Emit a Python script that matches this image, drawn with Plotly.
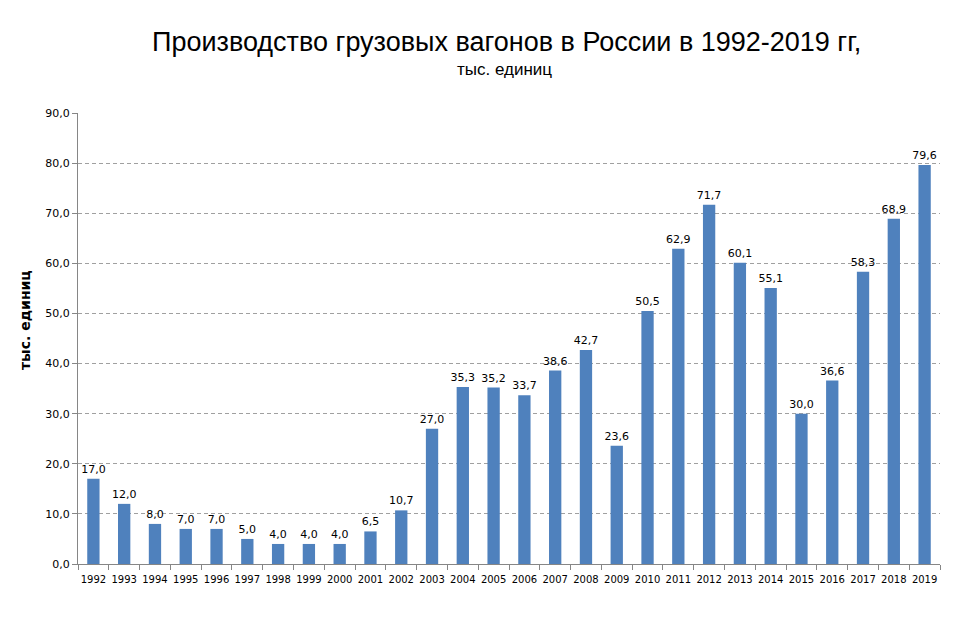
import plotly.graph_objects as go

years = [str(y) for y in range(1992, 2020)]
wagons = [17.0, 12.0, 8.0, 7.0, 7.0, 5.0, 4.0, 4.0, 4.0, 6.5, 10.7, 27.0, 35.3, 35.2,
          33.7, 38.6, 42.7, 23.6, 50.5, 62.9, 71.7, 60.1, 55.1, 30.0, 36.6, 58.3, 68.9, 79.6]
y_ticks = [0, 10, 20, 30, 40, 50, 60, 70, 80, 90]

label_font = "DejaVu Sans, Verdana, sans-serif"
title_font = "Liberation Sans Narrow, Arial Narrow, Liberation Sans, Arial, sans-serif"

# plot area in page pixels (the page body adds an 8px offset)
left, right, top, bottom = 78, 940, 113, 564
off = 8
plot_w = right - left
plot_h = bottom - top


def px_x(x):
    return (x - left) / plot_w


def px_y(y):
    return (bottom - y) / plot_h


fig = go.Figure(
    go.Bar(
        x=years,
        y=wagons,
        marker=dict(color="#4f81bd", line=dict(width=0)),
        width=0.4,
        texttemplate="%{y:.1f}",
        textposition="outside",
        constraintext="none",
        textfont=dict(family=label_font, size=11, color="#000000"),
        cliponaxis=False,
    )
)

fig.update_layout(
    width=977,
    height=638,
    separators=", ",
    paper_bgcolor="white",
    plot_bgcolor="white",
    margin=dict(l=left - off, r=977 + off - right, t=top - off, b=638 + off - bottom,
                autoexpand=False),
    showlegend=False,
    annotations=[
        dict(text="Производство грузовых вагонов в России в 1992-2019 гг,",
             x=px_x(506), y=px_y(42), xanchor="center", yanchor="middle",
             font=dict(family=title_font, size=27, color="#000000")),
        dict(text="тыс. единиц", x=px_x(504), y=px_y(70), xanchor="center", yanchor="middle",
             font=dict(family=title_font, size=17, color="#000000")),
        dict(text="<b>тыс. единиц</b>", x=px_x(25), y=px_y(320), textangle=-90,
             xanchor="center", yanchor="middle",
             font=dict(family=label_font, size=14, color="#000000")),
    ],
)
for a in fig.layout.annotations:
    a.update(xref="paper", yref="paper", showarrow=False)

fig.update_xaxes(
    type="category",
    showline=True,
    linecolor="#868686",
    ticks="outside",
    tickson="boundaries",
    ticklen=5,
    tickcolor="#868686",
    tickangle=0,
    ticklabelstandoff=6,
    tickfont=dict(family=label_font, size=10, color="#000000"),
    showgrid=False,
)
fig.update_yaxes(
    range=[0, 90],
    tickvals=y_ticks,
    tickformat=".1f",
    showline=True,
    linecolor="#868686",
    ticks="outside",
    ticklen=5,
    tickcolor="#868686",
    tickfont=dict(family=label_font, size=11, color="#000000"),
    showgrid=True,
    gridcolor="#a0a0a0",
    griddash="4px,3px",
    gridwidth=1,
    zeroline=False,
)

fig.write_html("out.html")
